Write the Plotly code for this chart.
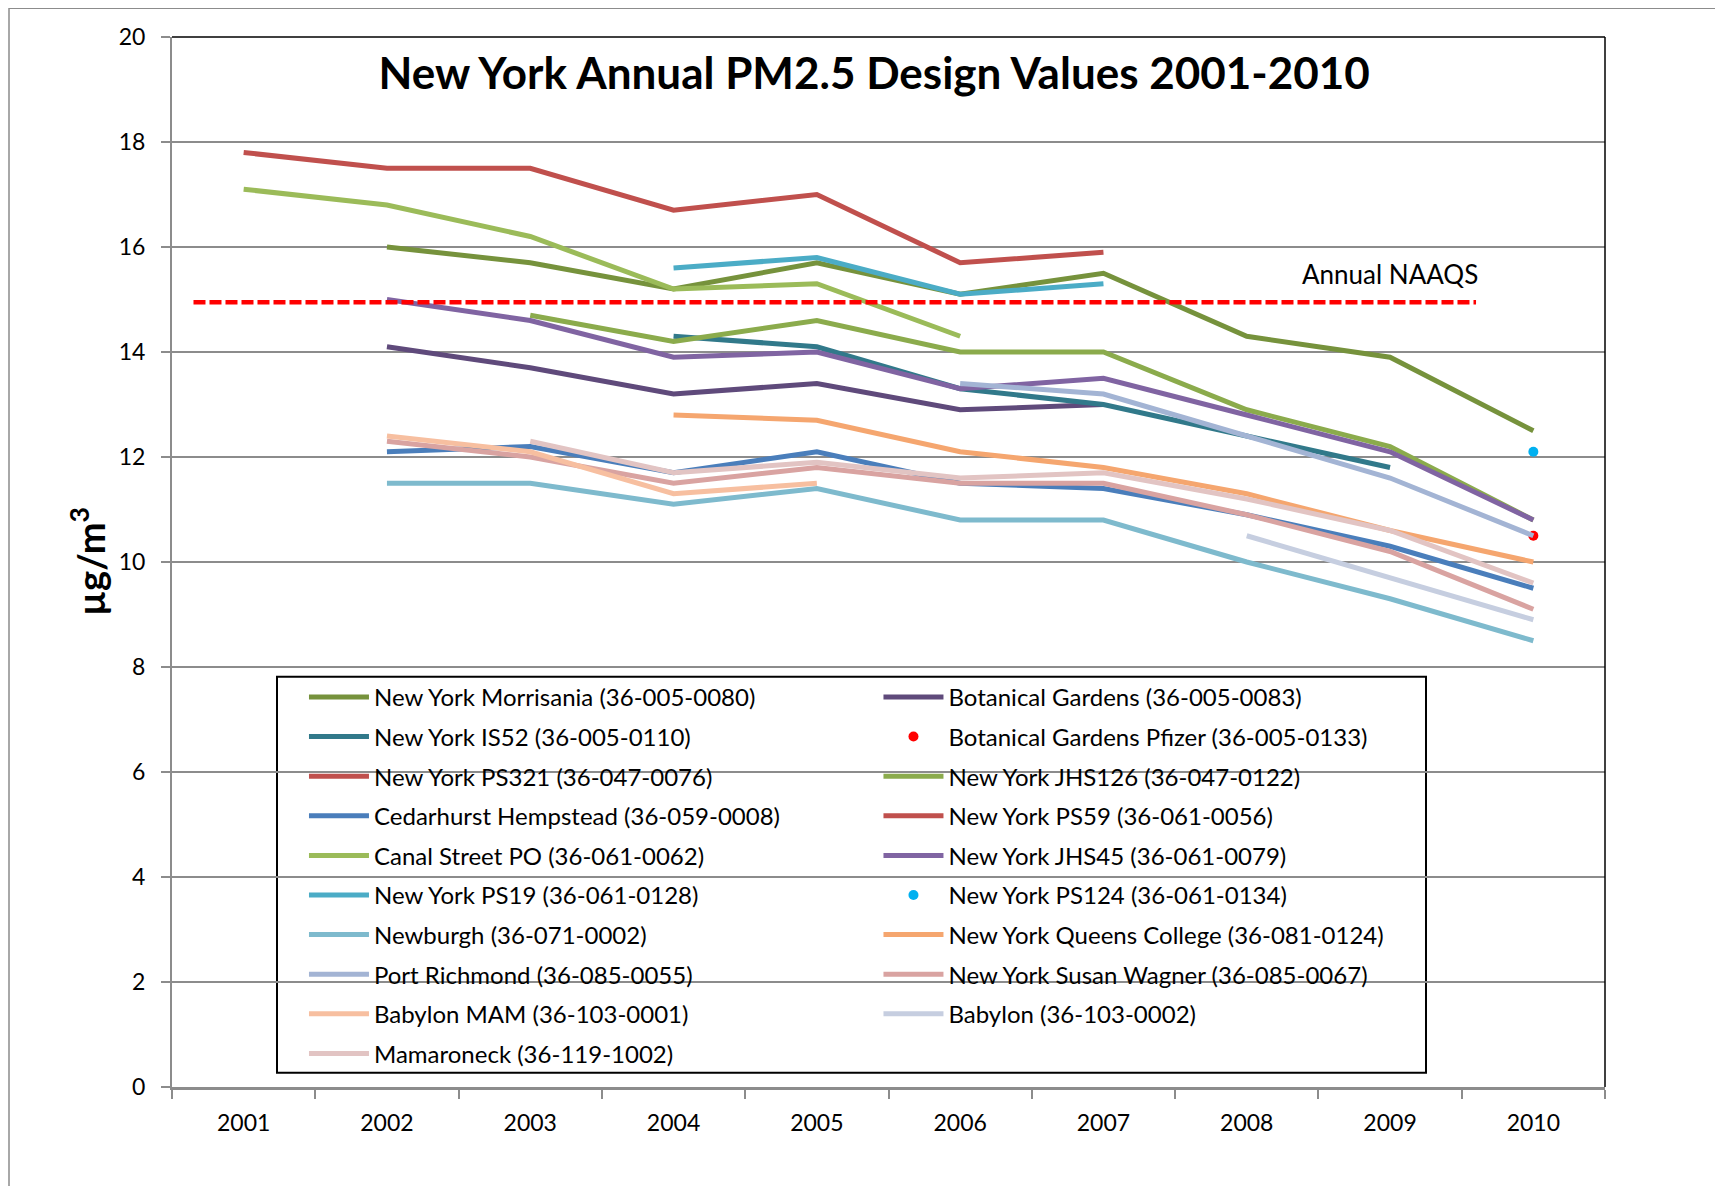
import plotly.graph_objects as go

# Annual PM2.5 design values (ug/m3)
YEARS = [2001, 2002, 2003, 2004, 2005, 2006, 2007, 2008, 2009, 2010]

morrisania = [None, 16.0, 15.7, 15.2, 15.7, 15.1, 15.5, 14.3, 13.9, 12.5]
botanical = [None, 14.1, 13.7, 13.2, 13.4, 12.9, 13.0, None, None, None]
is52 = [None, None, None, 14.3, 14.1, 13.3, 13.0, 12.4, 11.8, None]
pfizer = [None, None, None, None, None, None, None, None, None, 10.5]
ps321 = [None, None, None, None, None, None, None, None, None, None]
jhs126 = [None, None, 14.7, 14.2, 14.6, 14.0, 14.0, 12.9, 12.2, 10.8]
cedarhurst = [None, 12.1, 12.2, 11.7, 12.1, 11.5, 11.4, 10.9, 10.3, 9.5]
ps59 = [17.8, 17.5, 17.5, 16.7, 17.0, 15.7, 15.9, None, None, None]
canal = [17.1, 16.8, 16.2, 15.2, 15.3, 14.3, None, None, None, None]
jhs45 = [None, 15.0, 14.6, 13.9, 14.0, 13.3, 13.5, 12.8, 12.1, 10.8]
ps19 = [None, None, None, 15.6, 15.8, 15.1, 15.3, None, None, None]
ps124 = [None, None, None, None, None, None, None, None, None, 12.1]
newburgh = [None, 11.5, 11.5, 11.1, 11.4, 10.8, 10.8, 10.0, 9.3, 8.5]
queens = [None, None, None, 12.8, 12.7, 12.1, 11.8, 11.3, 10.6, 10.0]
port_richmond = [None, None, None, None, None, 13.4, 13.2, 12.4, 11.6, 10.5]
susan_wagner = [None, 12.3, 12.0, 11.5, 11.8, 11.5, 11.5, 10.9, 10.2, 9.1]
babylon_mam = [None, 12.4, 12.1, 11.3, 11.5, None, None, None, None, None]
babylon = [None, None, None, None, None, None, None, 10.5, 9.7, 8.9]
mamaroneck = [None, None, 12.3, 11.7, 11.9, 11.6, 11.7, 11.2, 10.6, 9.6]

# NAAQS reference line
NAAQS_LEVEL = 14.95
NAAQS_FROM = 2000.65
NAAQS_TO = 2009.6

# (name, values, colour, markers only)
series = [
    ("New York Morrisania (36-005-0080)", morrisania, "#76923C", False),
    ("Botanical Gardens (36-005-0083)", botanical, "#5F4A7B", False),
    ("New York IS52 (36-005-0110)", is52, "#31798A", False),
    ("Botanical Gardens Pfizer (36-005-0133)", pfizer, "#FF0000", True),
    ("New York PS321 (36-047-0076)", ps321, "#C0504D", False),
    ("New York JHS126 (36-047-0122)", jhs126, "#8BAB4C", False),
    ("Cedarhurst Hempstead (36-059-0008)", cedarhurst, "#4A7EBB", False),
    ("New York PS59 (36-061-0056)", ps59, "#C0504D", False),
    ("Canal Street PO (36-061-0062)", canal, "#9BBB59", False),
    ("New York JHS45 (36-061-0079)", jhs45, "#8064A2", False),
    ("New York PS19 (36-061-0128)", ps19, "#4BACC6", False),
    ("New York PS124 (36-061-0134)", ps124, "#00B0F0", True),
    ("Newburgh (36-071-0002)", newburgh, "#7EBACD", False),
    ("New York Queens College (36-081-0124)", queens, "#F5A66F", False),
    ("Port Richmond (36-085-0055)", port_richmond, "#A3B4D4", False),
    ("New York Susan Wagner (36-085-0067)", susan_wagner, "#D9A3A1", False),
    ("Babylon MAM (36-103-0001)", babylon_mam, "#F7BFA0", False),
    ("Babylon (36-103-0002)", babylon, "#C6CEE0", False),
    ("Mamaroneck (36-119-1002)", mamaroneck, "#E2C4C3", False),
]

FONT = "Lato"
GRID = "#8C8C8C"

# the page adds an 8px body margin, so the figure is drawn 8px in from the corner
W, H = 1707, 1178
L, T = 164, 29.3
PLOT_W, PLOT_H = 1433, 1050

fig = go.Figure()

for i, (name, vals, color, dots) in enumerate(series):
    fig.add_trace(
        go.Scatter(
            x=YEARS,
            y=vals,
            name=name,
            mode="markers" if dots else "lines",
            line=dict(color=color, width=5),
            marker=dict(color=color, size=10),
            connectgaps=False,
            legend="legend" if i % 2 == 0 else "legend2",
            legendgroup=name,
        )
    )

fig.add_trace(
    go.Scatter(
        x=[NAAQS_FROM, NAAQS_TO],
        y=[NAAQS_LEVEL, NAAQS_LEVEL],
        mode="lines",
        line=dict(color="#FF0000", width=4.5, dash="12px,4px"),
        showlegend=False,
        hoverinfo="skip",
    )
)

fig.add_annotation(
    x=2009, y=15.48, text="Annual NAAQS", showarrow=False,
    font=dict(family=FONT, size=26, color="black"),
)

fig.add_annotation(
    xref="paper", yref="paper", x=(88 - 172) / PLOT_W, y=0.5,
    xanchor="center", yanchor="middle",
    text="<b>µg/m<sup>3</sup></b>", textangle=-90, showarrow=False,
    font=dict(family=FONT, size=38, color="black"),
)

legend_common = dict(
    orientation="v",
    bgcolor="rgba(0,0,0,0)",
    borderwidth=0,
    font=dict(family=FONT, size=24, color="black"),
    tracegroupgap=5.4,
    xanchor="left",
    yanchor="top",
    y=0.3925,
    itemwidth=60,
)

fig.update_layout(
    width=W,
    height=H,
    margin=dict(l=L, r=W - L - PLOT_W, t=T, b=H - T - PLOT_H),
    paper_bgcolor="white",
    plot_bgcolor="white",
    font=dict(family=FONT, size=23, color="black"),
    title=dict(
        text="<b>New York Annual PM2.5 Design Values 2001-2010</b>",
        x=0.49, xref="paper", xanchor="center",
        y=1 - 66 / H, yref="container", yanchor="middle",
        font=dict(family=FONT, size=44, color="black"),
    ),
    legend=dict(x=0.0921, **legend_common),
    legend2=dict(x=0.493, **legend_common),
    showlegend=True,
)

fig.update_xaxes(
    range=[2000.5, 2010.5],
    tickmode="array",
    tickvals=YEARS,
    ticktext=[str(y) for y in YEARS],
    ticks="",
    ticklabelstandoff=13,
    showgrid=False,
    zeroline=False,
    showline=True,
    linecolor=GRID,
    linewidth=3,
    minor=dict(
        tickmode="array",
        tickvals=[y - 0.5 for y in YEARS] + [YEARS[-1] + 0.5],
        ticks="outside",
        ticklen=9,
        tickcolor=GRID,
        tickwidth=1.5,
        showgrid=False,
    ),
    tickfont=dict(family=FONT, size=23, color="black"),
)

fig.update_yaxes(
    range=[0, 20],
    dtick=2,
    ticks="outside",
    ticklen=9,
    tickcolor=GRID,
    tickwidth=1.5,
    ticklabelstandoff=11,
    showgrid=True,
    gridcolor=GRID,
    gridwidth=1.5,
    zeroline=False,
    showline=True,
    linecolor=GRID,
    linewidth=2,
    tickfont=dict(family=FONT, size=23, color="black"),
)

# black top/right border of the plot area
fig.add_shape(type="line", xref="paper", yref="paper", x0=0, x1=1, y0=1, y1=1,
              line=dict(color="black", width=1.5))
fig.add_shape(type="line", xref="paper", yref="paper", x0=1, x1=1, y0=0, y1=1,
              line=dict(color="black", width=1.5))

# legend box
fig.add_shape(type="rect", xref="paper", yref="paper",
              x0=(277 - 172) / PLOT_W, x1=(1426 - 172) / PLOT_W,
              y0=(1087.3 - 1073) / PLOT_H, y1=(1087.3 - 677) / PLOT_H,
              line=dict(color="black", width=2), fillcolor="white", layer="below")

# outer chart frame
fig.add_shape(type="rect", xref="paper", yref="paper",
              x0=(9 - 172) / PLOT_W, x1=1.2,
              y0=-0.2, y1=(1087.3 - 8.5) / PLOT_H,
              line=dict(color="#8C8C8C", width=1.5), layer="below")

fig.write_html("out.html")
